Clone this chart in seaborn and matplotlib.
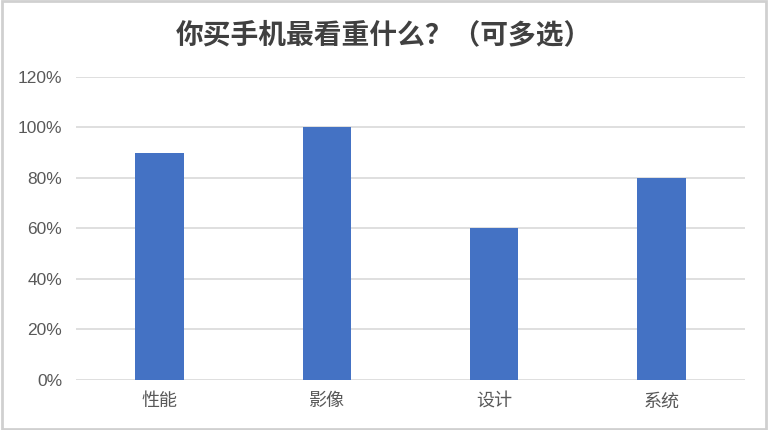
import matplotlib
matplotlib.use('Agg')
import matplotlib.pyplot as plt
import pandas as pd
import seaborn as sns
from matplotlib.patches import Rectangle
from matplotlib.ticker import FuncFormatter

categories = ['性能', '影像', '设计', '系统']
shares = [0.90, 1.00, 0.60, 0.80]
yticks = [0, 0.2, 0.4, 0.6, 0.8, 1.0, 1.2]

sns.set_theme(style='white')
plt.rcParams['font.family'] = ['Noto Sans CJK SC', 'DejaVu Sans']

df = pd.DataFrame({'item': categories, 'share': shares})

fig = plt.figure(figsize=(7.68, 4.30), dpi=100)
ax = fig.add_axes([0.099, 0.1163, 0.871, 0.7047])

sns.barplot(data=df, x='item', y='share', color='#4472C4', saturation=1,
            width=0.29, linewidth=0, ax=ax, zorder=3)

ax.set_ylim(0, 1.2)
ax.set_xlim(-0.5, 3.5)
ax.set_yticks(yticks)
ax.yaxis.set_major_formatter(FuncFormatter(lambda v, p: f'{v*100:.0f}%'))
ax.grid(axis='y', color='#d9d9d9', linewidth=1.2, zorder=0)
for s in ax.spines.values():
    s.set_visible(False)
ax.set_xlabel('')
ax.set_ylabel('')
ax.tick_params(axis='both', length=0, labelcolor='#595959')
ax.tick_params(axis='x', pad=9, labelsize=13)
ax.tick_params(axis='y', pad=10, labelsize=12.5)
for lab in ax.get_yticklabels():
    lab.set_family(['Liberation Sans', 'DejaVu Sans'])

fig.text(0.5, 0.919, '你买手机最看重什么？（可多选）', ha='center', va='center',
         fontsize=20, fontweight='bold', color='#404040')

fig.patches.append(Rectangle((0.002, 0.003), 0.996, 0.994, transform=fig.transFigure,
                             fill=False, edgecolor='#d0d0d0', linewidth=2))

fig.savefig('out.png', dpi=100, facecolor='white')
